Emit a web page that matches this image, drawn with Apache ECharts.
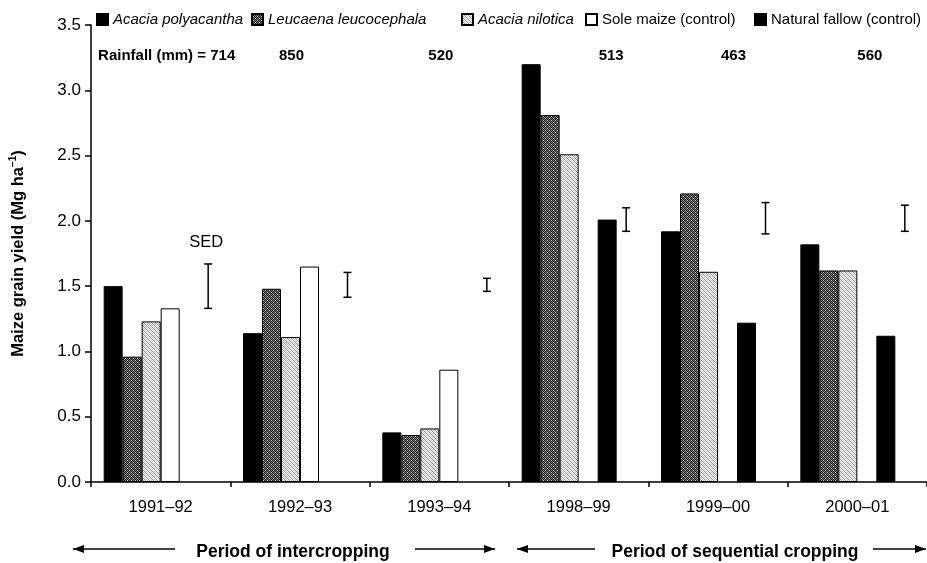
<!DOCTYPE html>
<html>
<head>
<meta charset="utf-8">
<script src="https://cdn.jsdelivr.net/npm/echarts@6/dist/echarts.min.js"></script>
<style>
  html, body { margin: 0; padding: 0; background: #fff; }
  #chart { width: 927px; height: 563px; }
</style>
</head>
<body>
<div id="chart"></div>
<script>
// Seasons on the category axis
const seasons = ['1991–92', '1992–93', '1993–94', '1998–99', '1999–00', '2000–01'];
// Seasonal rainfall (mm)
const rainfall = [714, 850, 520, 513, 463, 560];
// Maize grain yield (Mg ha-1) per treatment
const acaciaPolyacantha = [1.50, 1.14, 0.38, 3.20, 1.92, 1.82];
const leucaenaLeucocephala = [0.96, 1.48, 0.36, 2.81, 2.21, 1.62];
const acaciaNilotica = [1.23, 1.11, 0.41, 2.51, 1.61, 1.62];
const soleMaize = [1.33, 1.65, 0.86, null, null, null];
const naturalFallow = [null, null, null, 2.01, 1.22, 1.12];
// Standard error of difference: bar centre and full length
const sedCentre = [1.50, 1.51, 1.51, 2.01, 2.02, 2.02];
const sedLength = [0.34, 0.19, 0.10, 0.18, 0.24, 0.20];
// Y axis range
const yMin = 0, yMax = 3.5, yStep = 0.5;

// Layout helpers (pixels)
const BAR_W = 19;
const rainfallLabelShift = [6, -8.5, 1.5, 32.5, 15.5, 12.5];
const FONT = '"Liberation Sans", Arial, sans-serif';

// Small repeating textures for the shaded bars
function tile(rows, colours) {
  const c = document.createElement('canvas');
  c.width = rows[0].length; c.height = rows.length;
  const g = c.getContext('2d');
  rows.forEach((r, y) => [...r].forEach((ch, x) => {
    g.fillStyle = colours[ch];
    g.fillRect(x, y, 1, 1);
  }));
  return c;
}
const darkTexture = tile(['KGKW', 'GKGK', 'KWKG', 'GKGK'],
  { K: '#1a1a1a', G: '#7a7a7a', W: '#cfcfcf' });
const lightTexture = tile(['WGWL', 'LWGW', 'WLWG', 'GWLW'],
  { W: '#ffffff', G: '#8a8a8a', L: '#c4c4c4' });

const chart = echarts.init(document.getElementById('chart'), null, { renderer: 'canvas' });

function barSeries(name, data, color) {
  return {
    name, type: 'bar', data,
    barWidth: BAR_W, barGap: '0%',
    itemStyle: { color, borderColor: '#000', borderWidth: 1 },
    emphasis: { disabled: true },
    animation: false
  };
}

function legendAt(name, left, italic) {
  return {
    data: [name], left, top: 12, padding: 0,
    icon: 'rect', itemWidth: 11, itemHeight: 11,
    selectedMode: false,
    textStyle: { fontFamily: FONT, fontSize: 15, color: '#000', fontStyle: italic ? 'italic' : 'normal' }
  };
}

function arrow(xFrom, xTo, y, headAtStart) {
  const tipX = headAtStart ? xFrom : xTo;
  const dir = headAtStart ? 1 : -1;
  return {
    type: 'group', children: [
      { type: 'line', shape: { x1: xFrom, y1: y, x2: xTo, y2: y }, style: { stroke: '#000', lineWidth: 1.5 } },
      { type: 'polygon', shape: { points: [[tipX, y], [tipX + dir * 11, y - 4], [tipX + dir * 11, y + 4]] }, style: { fill: '#000' } }
    ]
  };
}

const option = {
  animation: false,
  backgroundColor: '#fff',
  grid: { left: 87, top: 25, width: 846, height: 457, containLabel: false },
  legend: [
    legendAt('Acacia polyacantha', 96, true),
    legendAt('Leucaena leucocephala', 251, true),
    legendAt('Acacia nilotica', 461, true),
    legendAt('Sole maize (control)', 585, false),
    legendAt('Natural fallow (control)', 754, false)
  ],
  xAxis: {
    type: 'category', data: seasons, boundaryGap: true,
    axisLine: { lineStyle: { color: '#000', width: 1.5 } },
    axisTick: { show: true, length: 5, lineStyle: { color: '#000', width: 1.5 } },
    axisLabel: { fontFamily: FONT, fontSize: 16.5, color: '#000', margin: 17 },
    splitLine: { show: false }
  },
  yAxis: {
    type: 'value', min: yMin, max: yMax, interval: yStep,
    axisLine: { show: true, lineStyle: { color: '#000', width: 1.5 } },
    axisTick: { show: true, length: 6, lineStyle: { color: '#000', width: 1.5 } },
    axisLabel: { fontFamily: FONT, fontSize: 17, color: '#000', margin: 10, formatter: v => v.toFixed(1) },
    splitLine: { show: false },
    name: 'Maize grain yield (Mg ha{sup|−1})',
    nameLocation: 'middle', nameRotate: 90, nameGap: 63,
    nameTextStyle: {
      fontFamily: FONT, fontSize: 16.5, fontWeight: 'bold', color: '#000',
      rich: { sup: { fontFamily: FONT, fontSize: 10, fontWeight: 'bold', color: '#000', verticalAlign: 'bottom', padding: [0, 0, 10, 0] } }
    }
  },
  series: [
    barSeries('Acacia polyacantha', acaciaPolyacantha, '#000'),
    barSeries('Leucaena leucocephala', leucaenaLeucocephala, { image: darkTexture, repeat: 'repeat' }),
    barSeries('Acacia nilotica', acaciaNilotica, { image: lightTexture, repeat: 'repeat' }),
    barSeries('Sole maize (control)', soleMaize, '#fff'),
    barSeries('Natural fallow (control)', naturalFallow, '#000'),
    // empty slot beside the bars where the SED bar sits
    { name: 'slot', type: 'bar', data: seasons.map(() => null), barWidth: BAR_W, barGap: '0%', silent: true },
    {
      name: 'SED', type: 'custom', silent: true,
      data: seasons.map((s, i) => [i, sedCentre[i], sedLength[i]]),
      renderItem(params, api) {
        const i = api.value(0), mid = api.value(1), half = api.value(2) / 2;
        const x = api.coord([i, mid])[0] + 2.5 * BAR_W;
        const yTop = api.coord([i, mid + half])[1];
        const yBot = api.coord([i, mid - half])[1];
        const st = { stroke: '#000', lineWidth: 1.5 };
        const children = [
          { type: 'line', shape: { x1: x, y1: yTop, x2: x, y2: yBot }, style: st },
          { type: 'line', shape: { x1: x - 4, y1: yTop, x2: x + 4, y2: yTop }, style: st },
          { type: 'line', shape: { x1: x - 4, y1: yBot, x2: x + 4, y2: yBot }, style: st }
        ];
        if (params.dataIndex === 0) {
          children.push({ type: 'text', style: { text: 'SED', x: x - 2, y: yTop - 21, align: 'center', verticalAlign: 'middle', fontFamily: FONT, fontSize: 16.5, fill: '#000' } });
        }
        return { type: 'group', children };
      }
    },
    {
      name: 'Rainfall', type: 'custom', silent: true,
      data: seasons.map((s, i) => [i, 3.26, rainfall[i]]),
      renderItem(params, api) {
        const i = api.value(0);
        const p = api.coord([i, api.value(1)]);
        const label = i === 0 ? 'Rainfall (mm) = ' + api.value(2) : String(api.value(2));
        return { type: 'text', style: { text: label, x: p[0] + rainfallLabelShift[i], y: p[1], align: 'center', verticalAlign: 'middle', fontFamily: FONT, fontSize: 15, fontWeight: 'bold', fill: '#000' } };
      }
    }
  ],
  graphic: [
    arrow(73, 175, 549, true),
    arrow(415, 495, 549, false),
    arrow(517, 595, 549, true),
    arrow(873, 926, 549, false),
    { type: 'text', x: 293, y: 552, style: { text: 'Period of intercropping', align: 'center', verticalAlign: 'middle', fontFamily: FONT, fontSize: 17.5, fontWeight: 'bold', fill: '#000' } },
    { type: 'text', x: 735, y: 552, style: { text: 'Period of sequential cropping', align: 'center', verticalAlign: 'middle', fontFamily: FONT, fontSize: 17.5, fontWeight: 'bold', fill: '#000' } }
  ]
};
chart.setOption(option);
</script>
</body>
</html>
